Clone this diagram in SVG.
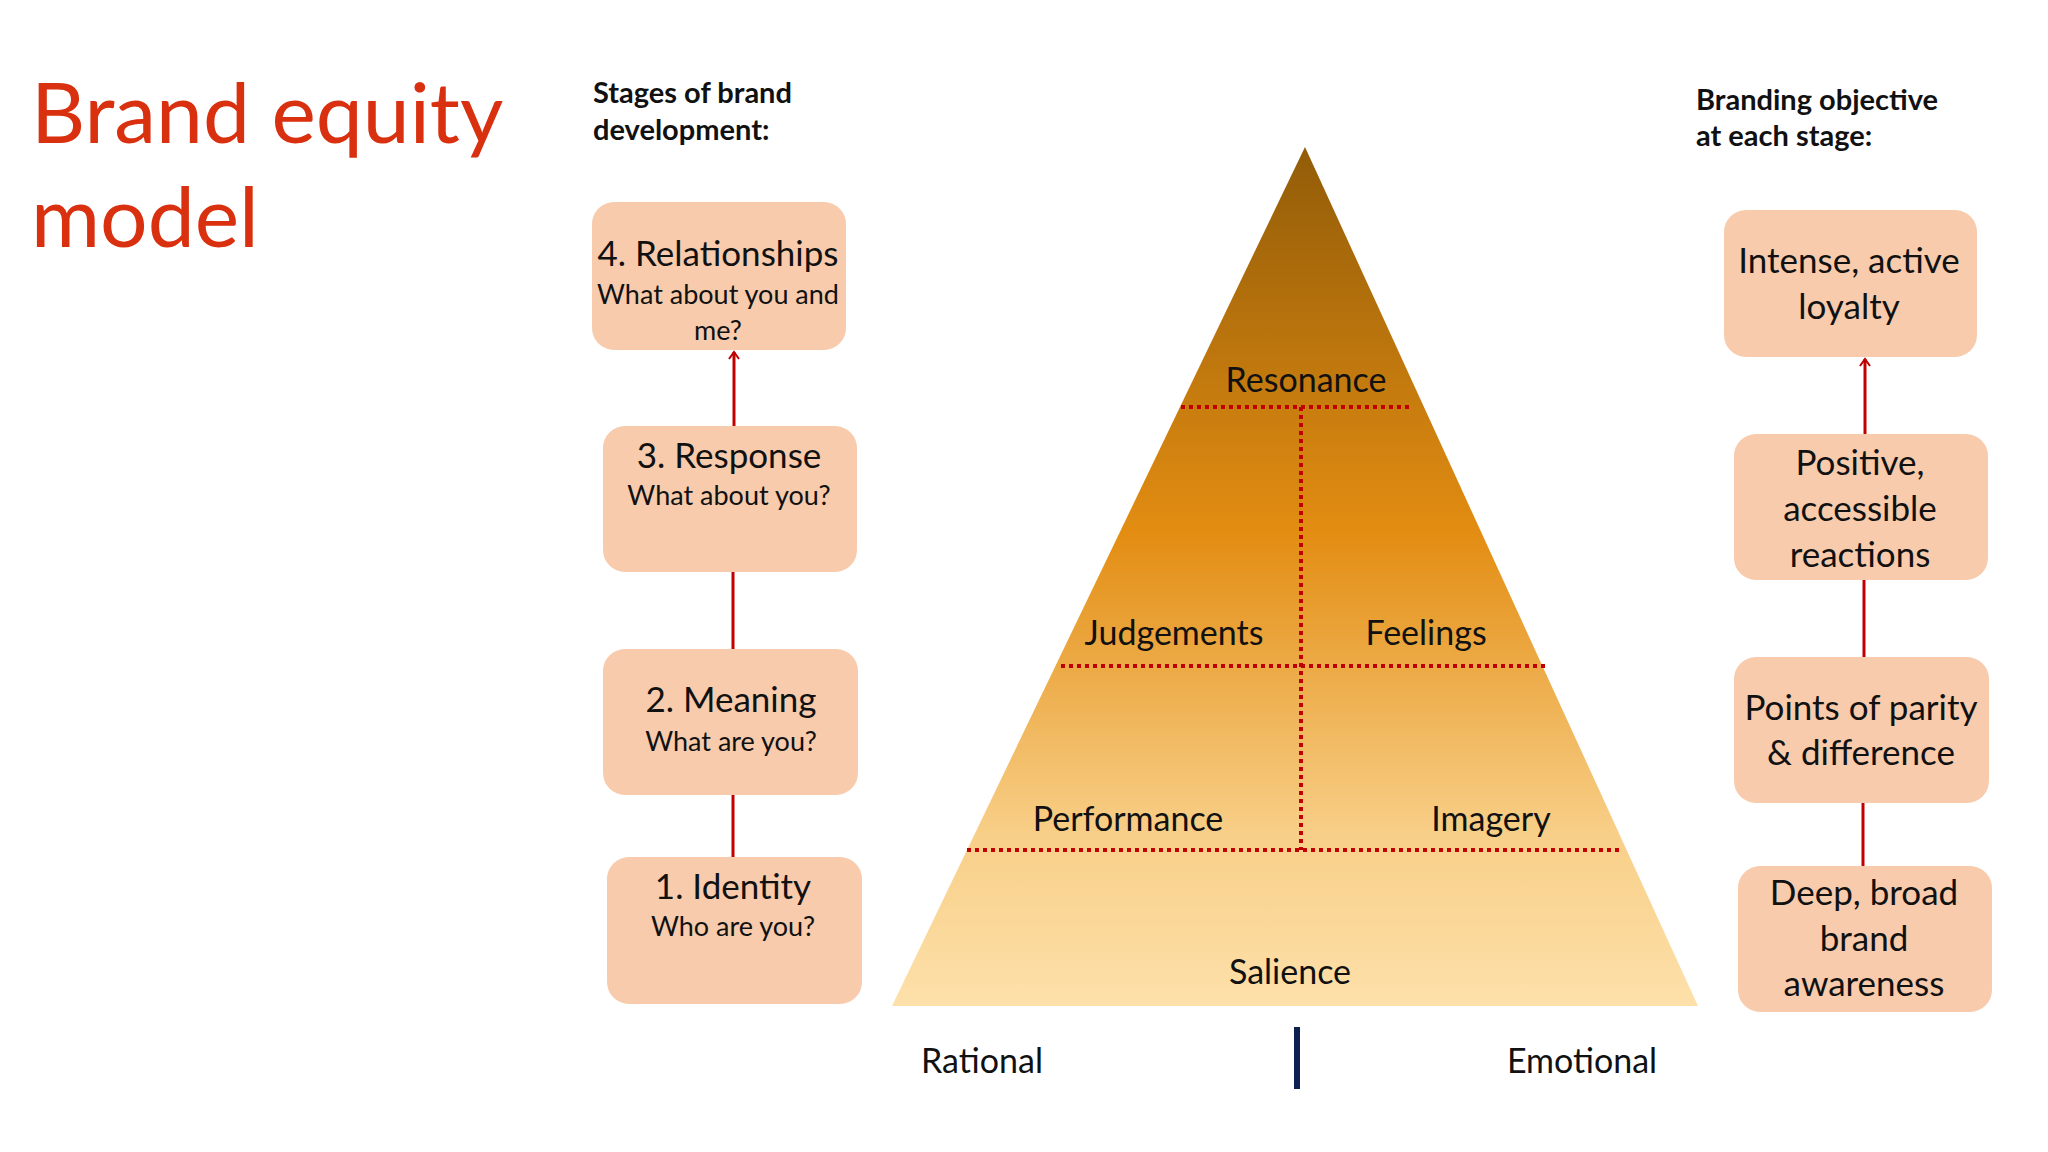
<svg xmlns="http://www.w3.org/2000/svg" width="2048" height="1152" viewBox="0 0 2048 1152">
<defs>
<linearGradient id="pg" x1="0" y1="147" x2="0" y2="1006" gradientUnits="userSpaceOnUse">
<stop offset="0" stop-color="#925c08"/>
<stop offset="0.45" stop-color="#e38d12"/>
<stop offset="0.8" stop-color="#f8cf88"/>
<stop offset="1" stop-color="#fde0aa"/>
</linearGradient>
<marker id="ah" viewBox="0 0 12 12" refX="10" refY="6" markerWidth="12" markerHeight="12" markerUnits="userSpaceOnUse" orient="auto">
<path d="M3,1 L10,6 L3,11" fill="none" stroke="#c00000" stroke-width="2"/>
</marker>
</defs>
<style>
text{font-family:Lato,"Liberation Sans",sans-serif;fill:#111}
.box{fill:#f7cbac}
.t{font-size:35px;text-anchor:middle}
.s{font-size:27px;text-anchor:middle}
.h{font-size:29px;font-weight:bold}
.pl{font-size:34px;text-anchor:middle}
.dot{stroke:#c00000;stroke-width:4;stroke-dasharray:4 4;fill:none}
.con{stroke:#c00000;stroke-width:3;fill:none}
</style>
<rect width="2048" height="1152" fill="#fff"/>
<text x="31" y="143" font-size="84" style="fill:#d9300f">Brand equity</text>
<text x="31" y="247" font-size="84" style="fill:#d9300f">model</text>
<text class="h" x="593" y="103">Stages of brand</text>
<text class="h" x="593" y="140">development:</text>
<text class="h" x="1696" y="110">Branding  objective</text>
<text class="h" x="1696" y="146">at each stage:</text>

<g id="pyramid">
<polygon points="1305,147 892,1006 1698,1006" fill="url(#pg)"/>
</g>
<g id="connectors">
<line class="con" x1="734" y1="426" x2="734" y2="352" marker-end="url(#ah)"/>
<line class="con" x1="733" y1="572" x2="733" y2="649"/>
<line class="con" x1="733" y1="795" x2="733" y2="857"/>
<line class="con" x1="1865" y1="434" x2="1865" y2="359" marker-end="url(#ah)"/>
<line class="con" x1="1864" y1="580" x2="1864" y2="657"/>
<line class="con" x1="1863" y1="803" x2="1863" y2="866"/>
</g>

<g id="box4"><rect class="box" x="592" y="202" width="254" height="148" rx="22"/>
<text class="t" x="718" y="266">4. Relationships</text>
<text class="s" x="718" y="304">What about you and</text>
<text class="s" x="718" y="340">me?</text></g>
<g id="box3"><rect class="box" x="603" y="426" width="254" height="146" rx="22"/>
<text class="t" x="729" y="468">3.   Response</text>
<text class="s" x="729" y="505">What about you?</text></g>
<g id="box2"><rect class="box" x="603" y="649" width="255" height="146" rx="22"/>
<text class="t" x="731" y="712">2.   Meaning</text>
<text class="s" x="731" y="751">What are you?</text></g>
<g id="box1"><rect class="box" x="607" y="857" width="255" height="147" rx="22"/>
<text class="t" x="733" y="899">1.   Identity</text>
<text class="s" x="733" y="936">Who are you?</text></g>

<g id="boxA"><rect class="box" x="1724" y="210" width="253" height="147" rx="22"/>
<text class="t" x="1849" y="273">Intense, active</text>
<text class="t" x="1849" y="319">loyalty</text></g>
<g id="boxB"><rect class="box" x="1734" y="434" width="254" height="146" rx="22"/>
<text class="t" x="1860" y="475">Positive,</text>
<text class="t" x="1860" y="521">accessible</text>
<text class="t" x="1860" y="567">reactions</text></g>
<g id="boxC"><rect class="box" x="1734" y="657" width="255" height="146" rx="22"/>
<text class="t" x="1861" y="720">Points of parity</text>
<text class="t" x="1861" y="765">&amp; difference</text></g>
<g id="boxD"><rect class="box" x="1738" y="866" width="254" height="146" rx="22"/>
<text class="t" x="1864" y="905">Deep, broad</text>
<text class="t" x="1864" y="951">brand</text>
<text class="t" x="1864" y="996">awareness</text></g>

<g id="dividers">
<line class="dot" x1="1181" y1="407" x2="1409" y2="407"/>
<line class="dot" x1="1061" y1="666" x2="1547" y2="666"/>
<line class="dot" x1="967" y1="850" x2="1622" y2="850"/>
<line class="dot" x1="1301" y1="407" x2="1301" y2="850"/>
</g>
<g id="pyramid-labels">
<text class="pl" x="1306" y="392">Resonance</text>
<text class="pl" x="1174" y="645">Judgements</text>
<text class="pl" x="1426" y="645">Feelings</text>
<text class="pl" x="1128" y="831">Performance</text>
<text class="pl" x="1491" y="831">Imagery</text>
<text class="pl" x="1290" y="984">Salience</text>
<text class="pl" x="982" y="1073">Rational</text>
<text class="pl" x="1582" y="1073">Emotional</text>
<rect x="1294" y="1027" width="6" height="62" fill="#0d2050"/>
</g>
</svg>
